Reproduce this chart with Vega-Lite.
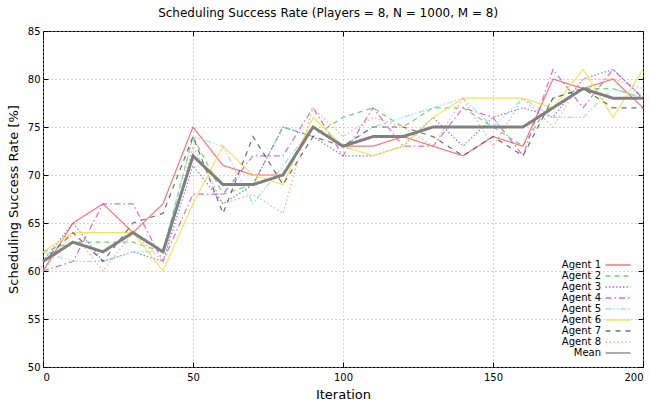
{
  "$schema": "https://vega.github.io/schema/vega-lite/v6.json",
  "width": 600,
  "height": 336,
  "autosize": "none",
  "padding": {"left": 43, "top": 31, "right": 7, "bottom": 39},
  "title": {"text": "Scheduling Success Rate (Players = 8, N = 1000, M = 8)", "fontSize": 12, "fontWeight": "normal", "font": "DejaVu Sans", "color": "#000", "offset": 6, "frame": "bounds"},
  "config": {
    "font": "DejaVu Sans",
    "view": {"stroke": "#000", "strokeWidth": 1},
    "axis": {"domain": false, "tickSize": -5, "tickColor": "#000", "labelFontSize": 10, "labelColor": "#000", "titleFontSize": 13, "titleFontWeight": "normal", "titleColor": "#000", "gridColor": "#aaaaaa", "gridDash": [1, 3], "gridOpacity": 1}
  },
  "data": {"values": [
    {"i":0,"s":"Agent 1","v":60},{"i":10,"s":"Agent 1","v":65},{"i":20,"s":"Agent 1","v":67},{"i":30,"s":"Agent 1","v":64},{"i":40,"s":"Agent 1","v":67},{"i":50,"s":"Agent 1","v":75},{"i":60,"s":"Agent 1","v":71},{"i":70,"s":"Agent 1","v":70},{"i":80,"s":"Agent 1","v":70},{"i":90,"s":"Agent 1","v":75},{"i":100,"s":"Agent 1","v":73},{"i":110,"s":"Agent 1","v":73},{"i":120,"s":"Agent 1","v":74},{"i":130,"s":"Agent 1","v":73},{"i":140,"s":"Agent 1","v":72},{"i":150,"s":"Agent 1","v":74},{"i":160,"s":"Agent 1","v":73},{"i":170,"s":"Agent 1","v":80},{"i":180,"s":"Agent 1","v":79},{"i":190,"s":"Agent 1","v":80},{"i":200,"s":"Agent 1","v":77},
    {"i":0,"s":"Agent 2","v":62},{"i":10,"s":"Agent 2","v":63},{"i":20,"s":"Agent 2","v":63},{"i":30,"s":"Agent 2","v":63},{"i":40,"s":"Agent 2","v":62},{"i":50,"s":"Agent 2","v":74},{"i":60,"s":"Agent 2","v":68},{"i":70,"s":"Agent 2","v":69},{"i":80,"s":"Agent 2","v":75},{"i":90,"s":"Agent 2","v":74},{"i":100,"s":"Agent 2","v":76},{"i":110,"s":"Agent 2","v":77},{"i":120,"s":"Agent 2","v":75},{"i":130,"s":"Agent 2","v":77},{"i":140,"s":"Agent 2","v":77},{"i":150,"s":"Agent 2","v":75},{"i":160,"s":"Agent 2","v":73},{"i":170,"s":"Agent 2","v":78},{"i":180,"s":"Agent 2","v":79},{"i":190,"s":"Agent 2","v":79},{"i":200,"s":"Agent 2","v":78},
    {"i":0,"s":"Agent 3","v":61},{"i":10,"s":"Agent 3","v":65},{"i":20,"s":"Agent 3","v":61},{"i":30,"s":"Agent 3","v":62},{"i":40,"s":"Agent 3","v":61},{"i":50,"s":"Agent 3","v":71},{"i":60,"s":"Agent 3","v":67},{"i":70,"s":"Agent 3","v":69},{"i":80,"s":"Agent 3","v":75},{"i":90,"s":"Agent 3","v":74},{"i":100,"s":"Agent 3","v":72},{"i":110,"s":"Agent 3","v":72},{"i":120,"s":"Agent 3","v":73},{"i":130,"s":"Agent 3","v":76},{"i":140,"s":"Agent 3","v":73},{"i":150,"s":"Agent 3","v":76},{"i":160,"s":"Agent 3","v":77},{"i":170,"s":"Agent 3","v":76},{"i":180,"s":"Agent 3","v":80},{"i":190,"s":"Agent 3","v":81},{"i":200,"s":"Agent 3","v":78},
    {"i":0,"s":"Agent 4","v":60},{"i":10,"s":"Agent 4","v":61},{"i":20,"s":"Agent 4","v":67},{"i":30,"s":"Agent 4","v":67},{"i":40,"s":"Agent 4","v":61},{"i":50,"s":"Agent 4","v":68},{"i":60,"s":"Agent 4","v":68},{"i":70,"s":"Agent 4","v":72},{"i":80,"s":"Agent 4","v":72},{"i":90,"s":"Agent 4","v":77},{"i":100,"s":"Agent 4","v":72},{"i":110,"s":"Agent 4","v":77},{"i":120,"s":"Agent 4","v":73},{"i":130,"s":"Agent 4","v":73},{"i":140,"s":"Agent 4","v":77},{"i":150,"s":"Agent 4","v":76},{"i":160,"s":"Agent 4","v":72},{"i":170,"s":"Agent 4","v":81},{"i":180,"s":"Agent 4","v":77},{"i":190,"s":"Agent 4","v":81},{"i":200,"s":"Agent 4","v":78},
    {"i":0,"s":"Agent 5","v":62},{"i":10,"s":"Agent 5","v":61},{"i":20,"s":"Agent 5","v":61},{"i":30,"s":"Agent 5","v":62},{"i":40,"s":"Agent 5","v":62},{"i":50,"s":"Agent 5","v":74},{"i":60,"s":"Agent 5","v":73},{"i":70,"s":"Agent 5","v":67},{"i":80,"s":"Agent 5","v":71},{"i":90,"s":"Agent 5","v":75},{"i":100,"s":"Agent 5","v":73},{"i":110,"s":"Agent 5","v":75},{"i":120,"s":"Agent 5","v":76},{"i":130,"s":"Agent 5","v":77},{"i":140,"s":"Agent 5","v":78},{"i":150,"s":"Agent 5","v":75},{"i":160,"s":"Agent 5","v":78},{"i":170,"s":"Agent 5","v":76},{"i":180,"s":"Agent 5","v":76},{"i":190,"s":"Agent 5","v":79},{"i":200,"s":"Agent 5","v":78},
    {"i":0,"s":"Agent 6","v":62},{"i":10,"s":"Agent 6","v":64},{"i":20,"s":"Agent 6","v":64},{"i":30,"s":"Agent 6","v":64},{"i":40,"s":"Agent 6","v":60},{"i":50,"s":"Agent 6","v":67},{"i":60,"s":"Agent 6","v":73},{"i":70,"s":"Agent 6","v":70},{"i":80,"s":"Agent 6","v":69},{"i":90,"s":"Agent 6","v":76},{"i":100,"s":"Agent 6","v":73},{"i":110,"s":"Agent 6","v":72},{"i":120,"s":"Agent 6","v":73},{"i":130,"s":"Agent 6","v":76},{"i":140,"s":"Agent 6","v":78},{"i":150,"s":"Agent 6","v":78},{"i":160,"s":"Agent 6","v":78},{"i":170,"s":"Agent 6","v":77},{"i":180,"s":"Agent 6","v":81},{"i":190,"s":"Agent 6","v":76},{"i":200,"s":"Agent 6","v":81},
    {"i":0,"s":"Agent 7","v":61},{"i":10,"s":"Agent 7","v":64},{"i":20,"s":"Agent 7","v":61},{"i":30,"s":"Agent 7","v":65},{"i":40,"s":"Agent 7","v":66},{"i":50,"s":"Agent 7","v":74},{"i":60,"s":"Agent 7","v":66},{"i":70,"s":"Agent 7","v":74},{"i":80,"s":"Agent 7","v":69},{"i":90,"s":"Agent 7","v":74},{"i":100,"s":"Agent 7","v":73},{"i":110,"s":"Agent 7","v":75},{"i":120,"s":"Agent 7","v":75},{"i":130,"s":"Agent 7","v":74},{"i":140,"s":"Agent 7","v":72},{"i":150,"s":"Agent 7","v":74},{"i":160,"s":"Agent 7","v":72},{"i":170,"s":"Agent 7","v":78},{"i":180,"s":"Agent 7","v":79},{"i":190,"s":"Agent 7","v":77},{"i":200,"s":"Agent 7","v":77},
    {"i":0,"s":"Agent 8","v":60},{"i":10,"s":"Agent 8","v":64},{"i":20,"s":"Agent 8","v":60},{"i":30,"s":"Agent 8","v":64},{"i":40,"s":"Agent 8","v":61},{"i":50,"s":"Agent 8","v":73},{"i":60,"s":"Agent 8","v":67},{"i":70,"s":"Agent 8","v":68},{"i":80,"s":"Agent 8","v":66},{"i":90,"s":"Agent 8","v":77},{"i":100,"s":"Agent 8","v":74},{"i":110,"s":"Agent 8","v":76},{"i":120,"s":"Agent 8","v":75},{"i":130,"s":"Agent 8","v":73},{"i":140,"s":"Agent 8","v":78},{"i":150,"s":"Agent 8","v":73},{"i":160,"s":"Agent 8","v":78},{"i":170,"s":"Agent 8","v":75},{"i":180,"s":"Agent 8","v":80},{"i":190,"s":"Agent 8","v":80},{"i":200,"s":"Agent 8","v":79},
    {"i":0,"s":"Mean","v":61},{"i":10,"s":"Mean","v":63},{"i":20,"s":"Mean","v":62},{"i":30,"s":"Mean","v":64},{"i":40,"s":"Mean","v":62},{"i":50,"s":"Mean","v":72},{"i":60,"s":"Mean","v":69},{"i":70,"s":"Mean","v":69},{"i":80,"s":"Mean","v":70},{"i":90,"s":"Mean","v":75},{"i":100,"s":"Mean","v":73},{"i":110,"s":"Mean","v":74},{"i":120,"s":"Mean","v":74},{"i":130,"s":"Mean","v":75},{"i":140,"s":"Mean","v":75},{"i":150,"s":"Mean","v":75},{"i":160,"s":"Mean","v":75},{"i":170,"s":"Mean","v":77},{"i":180,"s":"Mean","v":79},{"i":190,"s":"Mean","v":78},{"i":200,"s":"Mean","v":78}
  ]},
  "layer": [
    {
      "transform": [{"filter": "datum.s != 'Mean'"}],
      "mark": {"type": "line", "opacity": 0.85, "strokeWidth": 1.2},
      "encoding": {
        "x": {"field": "i", "type": "quantitative", "scale": {"domain": [0, 200], "nice": false}, "axis": {"title": "Iteration", "values": [0, 50, 100, 150, 200], "labelPadding": 10, "titlePadding": 6}},
        "y": {"field": "v", "type": "quantitative", "scale": {"domain": [50, 85], "nice": false, "zero": false}, "axis": {"title": "Scheduling Success Rate [%]", "values": [50, 55, 60, 65, 70, 75, 80, 85], "labelPadding": 8, "titlePadding": 7}},
        "color": {"field": "s", "type": "nominal", "scale": {"domain": ["Agent 1","Agent 2","Agent 3","Agent 4","Agent 5","Agent 6","Agent 7","Agent 8","Mean"], "range": ["#ff5a5a","#55cc55","#6a6ae0","#cc55cc","#88e0e0","#f0e040","#555555","#ff9a78","#808080"]},
          "legend": {"orient": "bottom-right", "title": null, "labelFontSize": 10, "labelColor": "#000", "symbolType": "M-2.5,0H2.5", "symbolSize": 100, "labelAlign": "right", "labelOffset": -23, "rowPadding": -1, "offset": 9, "padding": 0,
            "encode": {"symbols": {"update": {"strokeWidth": {"signal": "datum.label === 'Mean' ? 3 : 1.2"}, "fill": {"value": "transparent"}}}}}},
        "strokeDash": {"field": "s", "type": "nominal", "scale": {"domain": ["Agent 1","Agent 2","Agent 3","Agent 4","Agent 5","Agent 6","Agent 7","Agent 8","Mean"], "range": [[1,0],[5,4],[1.5,2],[6,3,1.5,3],[6,2,1.5,2,1.5,2],[1,0],[5,5],[1.5,2.5],[1,0]]}}
      }
    },
    {
      "transform": [{"filter": "datum.s == 'Mean'"}],
      "mark": {"type": "line", "strokeWidth": 3},
      "encoding": {
        "x": {"field": "i", "type": "quantitative", "axis": {"orient": "top", "labels": false, "title": null, "grid": false, "values": [0, 50, 100, 150, 200]}},
        "y": {"field": "v", "type": "quantitative", "axis": {"orient": "right", "labels": false, "title": null, "grid": false, "values": [50, 55, 60, 65, 70, 75, 80, 85]}},
        "color": {"field": "s", "type": "nominal"},
        "strokeDash": {"field": "s", "type": "nominal"}
      }
    }
  ],
  "resolve": {"axis": {"x": "independent", "y": "independent"}}
}
